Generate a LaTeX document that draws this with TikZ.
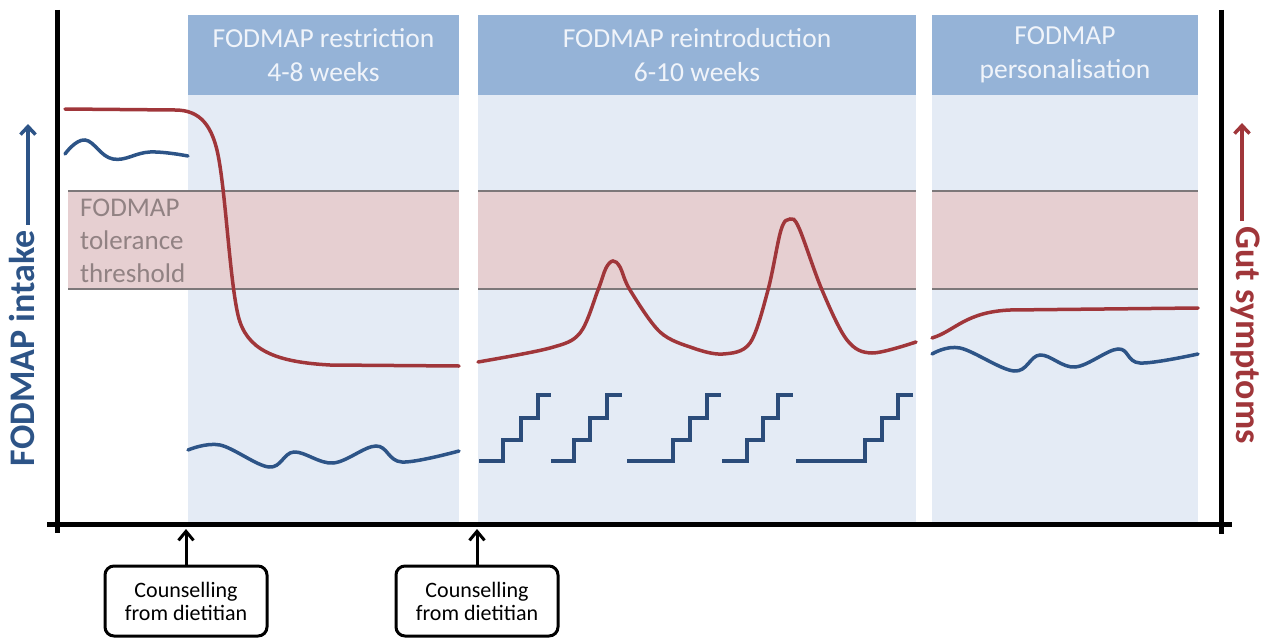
\documentclass[tikz,border=0pt]{standalone}
\usepackage{fontspec}
\setmainfont{Carlito}
\usepackage{tikz}
\usetikzlibrary{arrows.meta,positioning}
\definecolor{headblue}{RGB}{149,179,215}
\definecolor{paneblue}{RGB}{228,235,245}
\definecolor{bandpink}{RGB}{230,207,209}
\definecolor{bandline}{RGB}{125,120,122}
\definecolor{gutred}{RGB}{160,54,58}
\definecolor{intakeblue}{RGB}{45,84,135}
\definecolor{stairblue}{RGB}{43,76,122}
\definecolor{headtext}{RGB}{240,244,250}
\definecolor{bandtext}{RGB}{145,130,131}

\begin{document}
\begin{tikzpicture}[
            x=1pt, y=-1pt, % one unit = one pixel of the page, y downwards
            header_box/.style={
                fill=headblue, text=headtext,
                minimum height=80pt, inner sep=0pt, align=center,
                font=\fontsize{27.5}{34}\selectfont
            },
            panel_fill/.style={fill=paneblue},
            band_fill/.style={fill=bandpink},
            band_line/.style={draw=bandline, line width=2pt},
            red_curve/.style={draw=gutred, line width=3.5pt, line cap=round},
            blue_curve/.style={draw=intakeblue, line width=3.5pt, line cap=round},
            stair_line/.style={draw=stairblue, line width=4pt},
            axis_line/.style={line width=5pt},
            axis_label/.style={inner sep=0pt, font=\bfseries\fontsize{36}{42}\selectfont},
            label_arrow/.style={-{Straight Barb[length=8pt,width=15pt]}, line width=3.5pt},
            counsel_box/.style={
                draw, line width=3pt, rounded corners=9pt,
                minimum width=162pt, minimum height=70pt, align=center,
                font=\fontsize{22}{23}\selectfont
            },
            arrow_style/.style={-{Straight Barb[length=9pt,width=15pt]}, line width=3pt}
        ]
        \useasboundingbox (0,0) rectangle (1268,642);
        \coordinate (base) at (0,522);
        \coordinate (axis_mark) at (0,529);

        % Phase headers
        \node[header_box, minimum width=271pt] (restr_head) at (323.5,55) {FODMAP restriction\\4-8 weeks};
        \node[header_box, minimum width=438pt] (reint_head) at (697,55) {FODMAP reintroduction\\6-10 weeks};
        \node[header_box, minimum width=266pt] (pers_head) at (1065,55) {FODMAP\\personalisation};

        % Phase panels
        \fill[panel_fill] (restr_head.south west) rectangle (restr_head.east |- base);
        \fill[panel_fill] (reint_head.south west) rectangle (reint_head.east |- base);
        \fill[panel_fill] (pers_head.south west) rectangle (pers_head.east |- base);

        % Tolerance band
        \foreach \xl/\xr in {68/459, 478/916, 932/1198} {
            \fill[band_fill] (\xl,191) rectangle (\xr,289);
            \draw[band_line] (\xl,191) -- (\xr,191) (\xl,289) -- (\xr,289);
        }
        \node[anchor=north west, align=left, inner sep=0pt, text=bandtext,
              font=\fontsize{27}{33}\selectfont] (thresh_label) at (80,199) {FODMAP\\tolerance\\threshold};

        % Gut symptoms
        \draw[red_curve] (65,109) -- (175,110) .. controls (200,110) and (213,125) .. (219,160)
            .. controls (226,200) and (230,280) .. (238,315)
            .. controls (246,350) and (275,362) .. (330,365) -- (459,366);
        \draw[red_curve] plot[smooth, tension=0.55] coordinates {
            (478,362) (550,348) (580,333) (598,290) (606,268) (613,261) (620,267) (630,290)
            (660,332) (693,348) (723,354) (750,343) (768,290) (781,230) (790,219) (799,228)
            (822,290) (847,340) (872,353) (916,342)};
        \draw[red_curve] (932,338) .. controls (955,331) and (965,312) .. (1010,310) -- (1198,308);

        % FODMAP intake
        \draw[blue_curve] plot[smooth, tension=0.7] coordinates {
            (65,154) (85,140) (113,159) (150,152) (188,156)};
        \draw[blue_curve] plot[smooth, tension=0.6] coordinates {
            (188,450) (220,445) (269,467) (294,452) (333,463) (376,446) (402,462) (459,451)};
        \draw[blue_curve] plot[smooth, tension=0.6] coordinates {
            (932,354) (960,348) (1014,371) (1040,355) (1075,367) (1118,349) (1140,363) (1198,354)};
        % Reintroduction steps
        \foreach \xs/\xa/\xb/\xc/\xe in {479/503/521/538/551, 551/574/590/607/622,
                627/673/690/707/721, 722/747/763/778/793, 796/865/882/898/913} {
            \draw[stair_line] (\xs,461) -| (\xa,440) -| (\xb,418) -| (\xc,395) -- (\xe,395);
        }

        % Axes
        \draw[axis_line] (57,10) -- (57,533);
        \draw[axis_line] (47,524) -- (1232,524);
        \draw[axis_line] (1221,10) -- (1221,534);

        % Axis labels
        \node[axis_label, rotate=90, text=intakeblue] (intake_label) at (22,348) {FODMAP intake};
        \coordinate (intake_tip) at (28,124);
        \draw[label_arrow, intakeblue] ([shift={(6,-5)}]intake_label.east) -- (intake_tip);
        \node[axis_label, rotate=-90, text=gutred] (gut_label) at (1245,335) {Gut symptoms};
        \coordinate (gut_tip) at (1242,123);
        \draw[label_arrow, gutred] ([shift={(-3,-5)}]gut_label.west) -- (gut_tip);

        % Dietitian counselling
        \node[counsel_box] (counsel_a) at (186,601) {Counselling\\from dietitian};
        \node[counsel_box] (counsel_b) at (477,601) {Counselling\\from dietitian};
        \draw[arrow_style] (counsel_a.north) -- (counsel_a.north |- axis_mark);
        \draw[arrow_style] (counsel_b.north) -- (counsel_b.north |- axis_mark);
\end{tikzpicture}
\end{document}
